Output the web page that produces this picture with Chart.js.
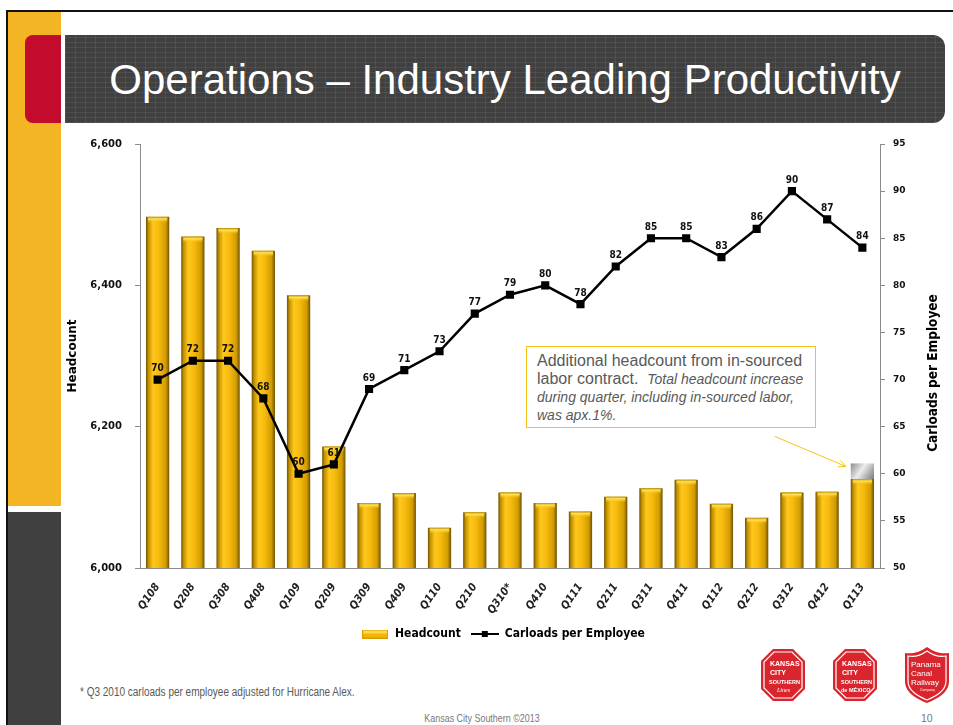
<!DOCTYPE html>
<html>
<head>
<meta charset="utf-8">
<script src="https://cdn.jsdelivr.net/npm/chart.js@4.4.1/dist/chart.umd.min.js"></script>
<style>
    html, body { margin: 0; padding: 0; background: #fff; }
    body { width: 953px; height: 725px; position: relative; overflow: hidden; font-family: "Liberation Sans", Arial, sans-serif; }
    #topLine { position: absolute; left: 6px; top: 10px; width: 947px; height: 2px; background: #111; }
    #leftLine { position: absolute; left: 6px; top: 10px; width: 2px; height: 715px; background: #111; }
    #yellowStrip { position: absolute; left: 8px; top: 12px; width: 53px; height: 494px; background: #F4B524; }
    #darkStrip { position: absolute; left: 8px; top: 512px; width: 53px; height: 213px; background: #404040; }
    #redBlock { position: absolute; left: 25px; top: 35px; width: 36px; height: 88px; background: #C30B2E; border-radius: 8px 0 0 8px; }
    #titleBar {
        position: absolute; left: 65px; top: 35px; width: 880px; height: 88px;
        border-radius: 0 12px 12px 0; background-color: #404040;
        background-image:
            repeating-linear-gradient(0deg, rgba(255,255,255,0.07) 0 1px, transparent 1px 5px),
            repeating-linear-gradient(90deg, rgba(255,255,255,0.07) 0 1px, transparent 1px 10px);
        color: #fff; font-size: 42px; line-height: 90px; text-align: center;
    }
    #chartBox { position: absolute; left: 62px; top: 125px; width: 882px; height: 525px; }
    #note {
        position: absolute; left: 526px; top: 346px; width: 272px; height: 73px;
        border: 1px solid #F6C21A; background: #fff; padding: 5px 6px 2px 10px;
        color: #595959; font-size: 16px; line-height: 18px;
    }
    #note i { font-size: 14px; }
    #footnote {
        position: absolute; left: 80px; top: 685px; font-size: 12.5px; color: #595959;
        transform: scaleX(0.8); transform-origin: left top; white-space: nowrap;
    }
    #footer {
        position: absolute; left: 382px; width: 200px; top: 712px; text-align: center;
        font-size: 10.5px; color: #777; transform: scaleX(0.85); transform-origin: center top;
    }
    #pageNum { position: absolute; left: 921px; top: 712px; font-size: 10.5px; color: #777; }
    #logos { position: absolute; left: 757px; top: 645px; }
</style>
</head>
<body>
<div id="topLine"></div>
<div id="leftLine"></div>
<div id="yellowStrip"></div>
<div id="darkStrip"></div>
<div id="redBlock"></div>
<div id="titleBar">Operations – Industry Leading Productivity</div>

<div id="chartBox"><canvas id="prodChart" width="882" height="525"></canvas></div>

<div id="note">Additional headcount from in-sourced labor contract.&nbsp; <i>Total headcount increase during quarter, including in-sourced labor, was apx.1%.</i></div>

<div id="footnote">* Q3 2010 carloads per employee adjusted for Hurricane Alex.</div>
<div id="footer">Kansas City Southern ©2013</div>
<div id="pageNum">10</div>

<svg id="logos" width="198" height="62" viewBox="0 0 198 62">
    <g transform="translate(4,4)">
        <polygon points="12,0 32,0 44,12 44,40 32,52 12,52 0,40 0,12" fill="#D9262E"/>
        <polygon points="13,3 31,3 41,13 41,39 31,49 13,49 3,39 3,13" fill="none" stroke="#fff" stroke-width="1.2"/>
        <text x="9" y="17" fill="#fff" font-size="7" font-weight="bold" font-family="Liberation Sans">KANSAS</text>
        <text x="9" y="26" fill="#fff" font-size="7" font-weight="bold" font-family="Liberation Sans">CITY</text>
        <text x="8" y="35" fill="#fff" font-size="5.5" font-weight="bold" font-family="Liberation Sans">SOUTHERN</text>
        <text x="16" y="43" fill="#fff" font-size="6" font-style="italic" font-family="Liberation Serif">Lines</text>
    </g>
    <g transform="translate(76,4)">
        <polygon points="12,0 32,0 44,12 44,40 32,52 12,52 0,40 0,12" fill="#D9262E"/>
        <polygon points="13,3 31,3 41,13 41,39 31,49 13,49 3,39 3,13" fill="none" stroke="#fff" stroke-width="1.2"/>
        <text x="9" y="17" fill="#fff" font-size="7" font-weight="bold" font-family="Liberation Sans">KANSAS</text>
        <text x="9" y="26" fill="#fff" font-size="7" font-weight="bold" font-family="Liberation Sans">CITY</text>
        <text x="8" y="35" fill="#fff" font-size="5.5" font-weight="bold" font-family="Liberation Sans">SOUTHERN</text>
        <text x="8" y="43" fill="#fff" font-size="5.5" font-weight="bold" font-family="Liberation Sans">de MÉXICO</text>
    </g>
    <g transform="translate(148,2)">
        <path d="M22,0 C30,6 38,7 44,6 L44,34 C44,46 32,52 22,56 C12,52 0,46 0,34 L0,6 C6,7 14,6 22,0 Z" fill="#D9262E"/>
        <path d="M22,4 C29,9 36,10 41,9 L41,34 C41,44 31,49 22,53 C13,49 3,44 3,34 L3,9 C8,10 15,9 22,4 Z" fill="none" stroke="#fff" stroke-width="1.2"/>
        <text x="6" y="20" fill="#fff" font-size="8" font-family="Liberation Sans">Panama</text>
        <text x="6" y="29" fill="#fff" font-size="8" font-family="Liberation Sans">Canal</text>
        <text x="6" y="38" fill="#fff" font-size="8" font-family="Liberation Sans">Railway</text>
        <text x="15" y="44" fill="#fff" font-size="3.5" font-family="Liberation Sans">Company</text>
    </g>
</svg>

<script>
const quarters = ["Q108", "Q208", "Q308", "Q408", "Q109", "Q209", "Q309", "Q409", "Q110", "Q210",
    "Q310*", "Q410", "Q111", "Q211", "Q311", "Q411", "Q112", "Q212", "Q312", "Q412", "Q113"];
const headcount = [6497, 6469, 6481, 6449, 6386, 6172, 6092, 6106, 6057, 6079,
    6107, 6092, 6080, 6101, 6113, 6125, 6091, 6071, 6107, 6108, 6126];
// in-sourced labor on top of the last bar
const insourced = [null, null, null, null, null, null, null, null, null, null,
    null, null, null, null, null, null, null, null, null, null, 22];
const carloads = [70, 72, 72, 68, 60, 61, 69, 71, 73, 77,
    79, 80, 78, 82, 85, 85, 83, 86, 90, 87, 84];

const BAR_PCT = 0.66;

function barSpan(chart, i) {
    const x = chart.scales.x;
    const w = x.width / quarters.length * BAR_PCT;
    const cx = x.getPixelForValue(i);
    return [cx - w / 2, cx + w / 2];
}

function goldFill(ctx) {
    const chart = ctx.chart;
    if (!chart.scales.x || ctx.dataIndex === undefined) return "#F2B40E";
    const [l, r] = barSpan(chart, ctx.dataIndex);
    const g = chart.ctx.createLinearGradient(l, 0, r, 0);
    g.addColorStop(0, "#6e5200");
    g.addColorStop(0.1, "#c08f00");
    g.addColorStop(0.3, "#FFC81C");
    g.addColorStop(0.55, "#F7BA0E");
    g.addColorStop(0.85, "#D29C00");
    g.addColorStop(1, "#6e5200");
    return g;
}

function grayFill(ctx) {
    const chart = ctx.chart;
    if (!chart.scales.x || ctx.dataIndex === undefined) return "#aaa";
    const [l, r] = barSpan(chart, ctx.dataIndex);
    const y = chart.scales.y;
    const top = y.getPixelForValue(headcount[ctx.dataIndex] + (insourced[ctx.dataIndex] || 0));
    const g = chart.ctx.createLinearGradient(l, top, r, top + 16);
    g.addColorStop(0, "#8c8c8c");
    g.addColorStop(0.45, "#ececec");
    g.addColorStop(1, "#777");
    return g;
}

// legend swatches
function makeSwatch(draw, w, h) {
    const c = document.createElement("canvas");
    c.width = w; c.height = h;
    draw(c.getContext("2d"));
    return c;
}
const barSwatch = makeSwatch(g => {
    g.fillStyle = "#D89C00"; g.fillRect(0, 0, 26, 9);
    g.fillStyle = "#FFD84A"; g.fillRect(1, 1, 24, 3);
    g.fillStyle = "#F2B40E"; g.fillRect(1, 4, 24, 4);
}, 26, 9);
const lineSwatch = makeSwatch(g => {
    g.fillStyle = "#000"; g.fillRect(0, 4, 28, 2);
    g.fillRect(11, 2, 6, 6);
}, 28, 10);

const extras = {
    id: "extras",
    afterDatasetDraw(chart, args) {
        const ctx = chart.ctx;
        if (args.index === 0) {
            // bevelled top of each gold bar
            args.meta.data.forEach((el, i) => {
                const [l, r] = barSpan(chart, i);
                const g = ctx.createLinearGradient(0, el.y, 0, el.y + 6);
                g.addColorStop(0, "#B88A00");
                g.addColorStop(0.35, "#FFE45A");
                g.addColorStop(1, "rgba(247,186,14,0)");
                ctx.fillStyle = g;
                ctx.fillRect(l + 2, el.y, r - l - 4, 6);
            });
        }
    },
    afterDatasetsDraw(chart) {
        const ctx = chart.ctx;
        const meta = chart.getDatasetMeta(2);
        ctx.save();
        ctx.font = 'bold 10px "DejaVu Sans Condensed", "DejaVu Sans", sans-serif';
        ctx.fillStyle = "#111";
        ctx.textAlign = "center";
        ctx.textBaseline = "bottom";
        meta.data.forEach((pt, i) => ctx.fillText(String(carloads[i]), pt.x, pt.y - 6));

        // arrow from the note to the in-sourced segment
        const last = quarters.length - 1;
        const [l] = barSpan(chart, last);
        const tx = l - 5;
        const ty = chart.scales.y.getPixelForValue(headcount[last] + insourced[last]) + 3;
        const sx = tx - 71, sy = ty - 30;
        ctx.strokeStyle = "#F5C518";
        ctx.lineWidth = 1;
        ctx.beginPath();
        ctx.moveTo(sx, sy); ctx.lineTo(tx, ty);
        const a = Math.atan2(ty - sy, tx - sx);
        ctx.moveTo(tx - 8 * Math.cos(a - 0.45), ty - 8 * Math.sin(a - 0.45));
        ctx.lineTo(tx, ty);
        ctx.lineTo(tx - 8 * Math.cos(a + 0.45), ty - 8 * Math.sin(a + 0.45));
        ctx.stroke();

        // right axis title, reading bottom to top
        const area = chart.chartArea;
        ctx.translate(871, area.top + (area.bottom - area.top) / 2 + 17);
        ctx.rotate(-Math.PI / 2);
        ctx.font = 'bold 13.5px "DejaVu Sans Condensed", "DejaVu Sans", sans-serif';
        ctx.fillStyle = "#000";
        ctx.textBaseline = "middle";
        ctx.fillText("Carloads per Employee", 0, 0);
        ctx.restore();
    }
};

const tickFont = { family: '"DejaVu Sans", sans-serif', size: 10, weight: "bold" };
const axisGray = "#8c8c8c";

new Chart(document.getElementById("prodChart"), {
    type: "bar",
    data: {
        labels: quarters,
        datasets: [
            {
                label: "Headcount",
                data: headcount,
                backgroundColor: goldFill,
                stack: "hc",
                yAxisID: "y",
                order: 1,
                barPercentage: BAR_PCT,
                categoryPercentage: 1
            },
            {
                label: "In-sourced",
                data: insourced,
                backgroundColor: grayFill,
                stack: "hc",
                yAxisID: "y",
                order: 2,
                barPercentage: BAR_PCT,
                categoryPercentage: 1
            },
            {
                type: "line",
                label: "Carloads per Employee",
                data: carloads,
                yAxisID: "y1",
                borderColor: "#000",
                borderWidth: 2.5,
                backgroundColor: "#000",
                pointStyle: "rect",
                pointRadius: 4,
                tension: 0,
                order: 0
            }
        ]
    },
    options: {
        responsive: false,
        animation: false,
        layout: { padding: { top: 12, left: 0, right: 0, bottom: 0 } },
        plugins: {
            tooltip: { enabled: false },
            legend: {
                position: "bottom",
                labels: {
                    usePointStyle: true,
                    pointStyleWidth: 28,
                    padding: 10,
                    color: "#000",
                    font: { family: '"DejaVu Sans Condensed", "DejaVu Sans", sans-serif', size: 12, weight: "bold" },
                    generateLabels: () => [
                        { text: "Headcount", pointStyle: barSwatch, datasetIndex: 0, fontColor: "#000", lineWidth: 0 },
                        { text: "Carloads per Employee", pointStyle: lineSwatch, datasetIndex: 2, fontColor: "#000", lineWidth: 0 }
                    ]
                }
            }
        },
        scales: {
            x: {
                stacked: true,
                grid: { display: false },
                border: { display: true, color: axisGray },
                afterFit: s => { s.height = 50; },
                ticks: {
                    minRotation: 55, maxRotation: 55, padding: 5,
                    color: "#222",
                    font: { family: '"DejaVu Sans Condensed", "DejaVu Sans", sans-serif', size: 11, weight: "bold", style: "italic" }
                }
            },
            y: {
                position: "left",
                stacked: true,
                min: 6000, max: 6600,
                afterFit: s => { s.width = 78; },
                grid: { drawOnChartArea: false, tickLength: 5, color: axisGray },
                border: { color: axisGray },
                ticks: {
                    stepSize: 200, color: "#111", font: tickFont, padding: 13,
                    callback: v => v.toLocaleString("en-US")
                },
                title: {
                    display: true, text: "Headcount", color: "#000",
                    font: { family: '"DejaVu Sans", sans-serif', size: 12, weight: "bold" }
                }
            },
            y1: {
                position: "right",
                min: 50, max: 95,
                afterFit: s => { s.width = 64; },
                grid: { drawOnChartArea: false, tickLength: 5, color: axisGray },
                border: { color: axisGray },
                ticks: { stepSize: 5, color: "#111", font: { family: '"DejaVu Sans", sans-serif', size: 9, weight: "bold" }, padding: 8 }
            }
        }
    },
    plugins: [extras]
});
</script>
</body>
</html>
